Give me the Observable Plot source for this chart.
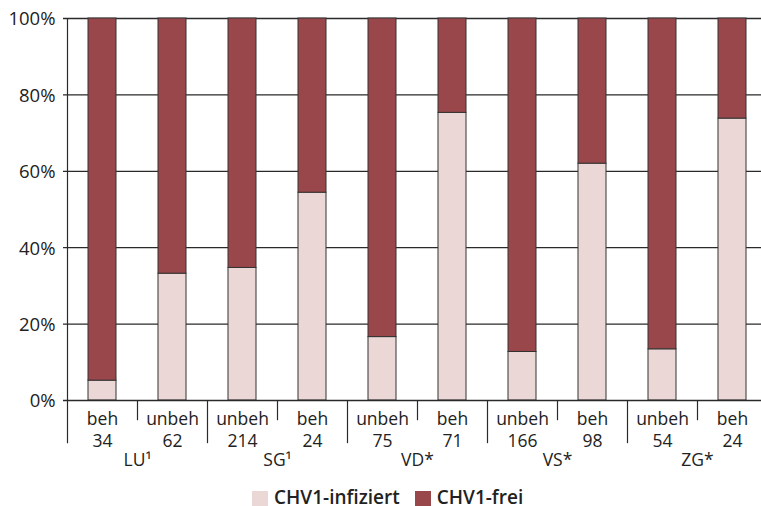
<!DOCTYPE html>
<html>
<head>
<meta charset="utf-8">
<script src="https://cdn.jsdelivr.net/npm/d3@7"></script>
<script src="https://cdn.jsdelivr.net/npm/@observablehq/plot@0.6"></script>
<style>
  html, body { margin: 0; padding: 0; background: #fff; overflow: hidden; }
  #chart svg { display: block; }
  #legend { display: flex; align-items: flex-start; margin-left: 252px; margin-top: 8px;
            font-family: "Open Sans", sans-serif; font-weight: 600; font-size: 19px; line-height: 19px; color: #222; }
  .item { display: flex; align-items: flex-start; margin-right: 15px; }
  .sw { width: 16px; height: 16px; margin-top: 3px; margin-right: 6px; }
</style>
</head>
<body>
<div id="chart"></div>
<div id="legend"></div>
<script>
// ---- data ----
const regions = ["LU¹","LU¹","SG¹","SG¹","VD*","VD*","VS*","VS*","ZG*","ZG*"];
const treatments = ["beh","unbeh","unbeh","beh","unbeh","beh","unbeh","beh","unbeh","beh"];
const sampleSizes = [34, 62, 214, 24, 75, 71, 166, 98, 54, 24];
const infectedPct = [5.2, 33.2, 34.7, 54.4, 16.6, 75.3, 12.7, 62.0, 13.4, 73.8];
const regionLabels = ["LU¹","SG¹","VD*","VS*","ZG*"];
const seriesNames = ["CHV1-infiziert", "CHV1-frei"];
const yTicks = [0, 20, 40, 60, 80, 100];

const colors = {"CHV1-infiziert": "#ebd8d6", "CHV1-frei": "#9a474b"};

const rows = treatments.map((t, i) => ({i, region: regions[i], treat: t, n: sampleSizes[i], inf: infectedPct[i]}));
const groupRows = regionLabels.map((r, g) => ({g, label: r}));
const boundaries = d3.range(0, treatments.length + 1);
const longSeps = boundaries.filter(b => b % 2 === 0);
const shortSeps = boundaries.filter(b => b % 2 === 1);

const font = "Open Sans, sans-serif";
const chart = Plot.plot({
  width: 761, height: 480,
  marginLeft: 63, marginRight: 0, marginTop: 18, marginBottom: 80,
  x: {domain: [0, treatments.length], range: [67, 767], axis: null, label: null},
  y: {domain: [0, 100], axis: null, label: null},
  style: {fontFamily: font, fontSize: "18px", color: "#222", background: "#fff", overflow: "hidden"},
  marks: [
    Plot.ruleY(yTicks.filter(t => t > 0), {stroke: "#2a2a2a", strokeWidth: 1.3}),
    Plot.rect(rows, {x1: d => d.i + 0.3, x2: d => d.i + 0.7, y1: 0, y2: "inf",
                     fill: colors["CHV1-infiziert"], stroke: "#333", strokeWidth: 1}),
    Plot.rect(rows, {x1: d => d.i + 0.3, x2: d => d.i + 0.7, y1: "inf", y2: 100,
                     fill: colors["CHV1-frei"], stroke: "#333", strokeWidth: 1}),
    Plot.ruleY([0], {stroke: "#2a2a2a", strokeWidth: 1.3}),
    Plot.ruleX(longSeps, {y1: -11.3, y2: d => d === 0 ? 100 : 0, stroke: "#2a2a2a", strokeWidth: 1.2}),
    Plot.ruleX(shortSeps, {y1: -5.3, y2: 0, stroke: "#2a2a2a", strokeWidth: 1.2}),
    Plot.text(rows, {x: d => d.i + 0.5, text: d => d.treat + "\n" + d.n, frameAnchor: "bottom",
                     lineAnchor: "top", lineHeight: 1.23, dy: 9.5, fill: "#222", fontSize: 17.5}),
    Plot.text(groupRows, {x: d => 2 * d.g + 1, text: "label", frameAnchor: "bottom",
                          lineAnchor: "middle", dy: 60, fill: "#222", fontSize: 17.5}),
    Plot.axisY(yTicks, {tickSize: 0, tickPadding: 8, tickFormat: d => d + "%", fontSize: 18.5, fill: "#222", label: null, dy: 1})
  ]
});
document.getElementById("chart").append(chart);

const legend = document.getElementById("legend");
for (const s of seriesNames) {
  const item = document.createElement("div");
  item.className = "item";
  const sw = document.createElement("div");
  sw.className = "sw";
  sw.style.background = colors[s];
  const label = document.createElement("span");
  label.textContent = s;
  item.append(sw, label);
  legend.append(item);
}
</script>
</body>
</html>
